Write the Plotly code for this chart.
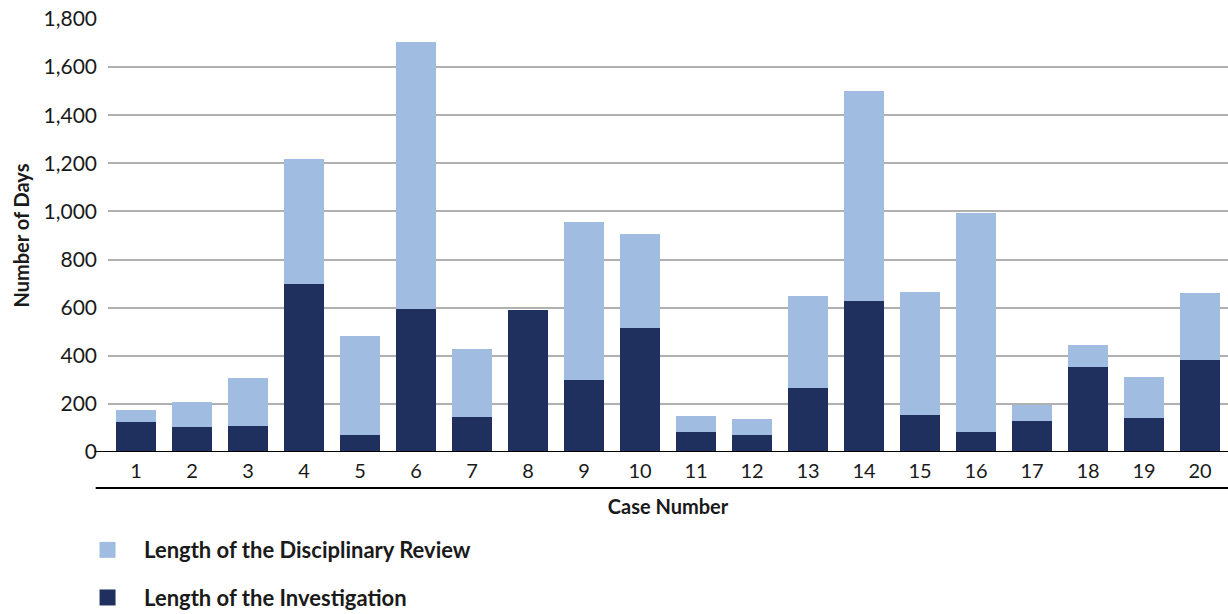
import plotly.graph_objects as go

cases = [str(i) for i in range(1, 21)]
investigation = [123, 102, 107, 698, 72, 594, 145, 590, 300, 516, 84, 72, 264, 629, 155, 82, 127, 354, 141, 381]
review = [50, 106, 200, 520, 410, 1112, 283, 0, 658, 390, 64, 66, 385, 873, 511, 911, 70, 89, 169, 281]
y_ticks = [0, 200, 400, 600, 800, 1000, 1200, 1400, 1600, 1800]
series_names = ["Length of the Investigation", "Length of the Disciplinary Review"]

DARK = "#1F305E"
LIGHT = "#A0BDE1"
FONT = "Lato"

fig = go.Figure()
fig.add_trace(go.Bar(x=cases, y=investigation, name=series_names[0], showlegend=False,
                     marker=dict(color=DARK, line=dict(width=0))))
fig.add_trace(go.Bar(x=cases, y=review, name=series_names[1], showlegend=False,
                     marker=dict(color=LIGHT, line=dict(width=0))))
# legend entries with large square swatches
fig.add_trace(go.Scatter(x=[None], y=[None], mode="markers", name=series_names[1],
                         legendgroup="review",
                         marker=dict(symbol="square", size=20, color=LIGHT)))
fig.add_trace(go.Scatter(x=[None], y=[None], mode="markers", name=series_names[0],
                         legendgroup="investigation",
                         marker=dict(symbol="square", size=20, color=DARK)))

fig.update_layout(
    width=1228, height=614,
    barmode="stack", bargap=0.285,
    plot_bgcolor="white", paper_bgcolor="white",
    margin=dict(l=108, r=0, t=19, b=162, autoexpand=False),
    font=dict(family=FONT, size=20, color="#1a1a1a"),
    xaxis=dict(showgrid=False, showline=False, ticks="", tickfont=dict(size=20),
               ticklabelstandoff=5,
               title=dict(text="<b>Case Number</b>", font=dict(size=20), standoff=18)),
    yaxis=dict(range=[0, 1800], tickvals=y_ticks, tickformat=",", showgrid=True,
               gridcolor="#b0b0b0", gridwidth=1.5, zeroline=False, showline=False,
               ticks="", tickfont=dict(size=21), ticklabelstandoff=10,
               title=dict(text="<b>Number of Days</b>", font=dict(size=20), standoff=8)),
    legend=dict(orientation="v", x=-0.033, xanchor="left", y=-0.178, yanchor="top",
                traceorder="grouped", tracegroupgap=16, itemsizing="trace",
                font=dict(size=22, family=FONT, weight="bold"), itemwidth=63),
    shapes=[
        dict(type="line", xref="paper", yref="y", x0=-0.012, x1=1, y0=0, y1=0,
             line=dict(color="black", width=2)),
        dict(type="line", xref="paper", yref="paper", x0=-0.011, x1=1, y0=-0.083, y1=-0.083,
             line=dict(color="black", width=2)),
    ],
)

fig.write_html("out.html")
